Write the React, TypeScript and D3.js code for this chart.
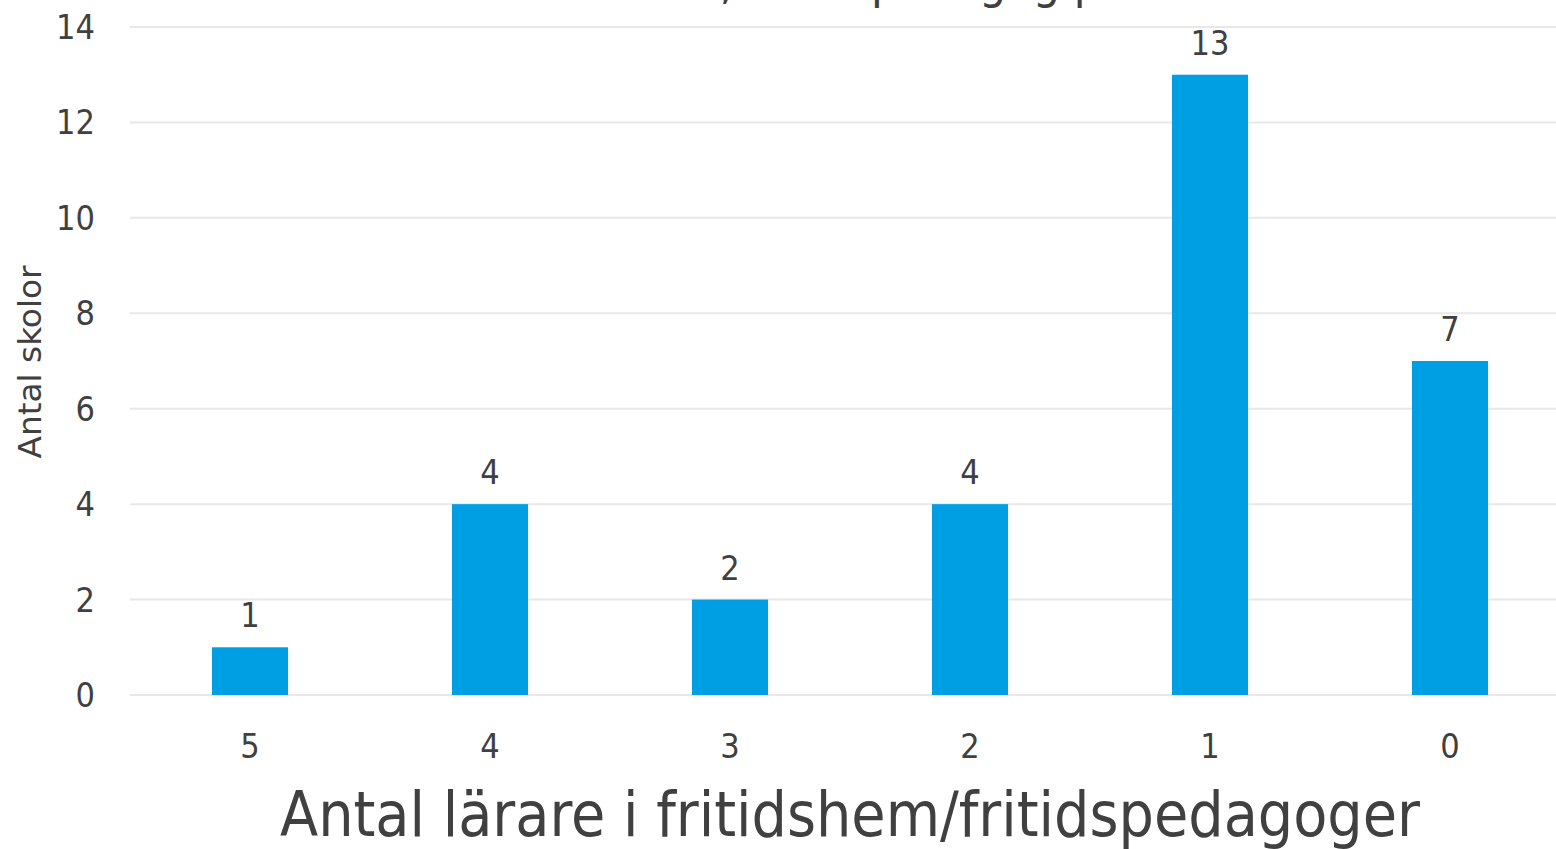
import { useEffect, useRef } from 'react';
import * as d3 from 'd3';

const W = 1556;
const H = 849;
const BAR = '#009fe3';
const INK = '#404040';
const GRID = '#e8e8e8';
const FONT = '"DejaVu Sans Condensed", "DejaVu Sans", Tahoma, sans-serif';

const categories = ['5', '4', '3', '2', '1', '0'];
const counts = [1, 4, 2, 4, 13, 7];
const yTicks = [0, 2, 4, 6, 8, 10, 12, 14];

const TITLE = 'Antal lärare i fritidshem, fritidspedagog per skola';
const X_TITLE = 'Antal lärare i fritidshem/fritidspedagoger';
const Y_TITLE = 'Antal skolor';

export default function App() {
  const ref = useRef<SVGSVGElement>(null);

  useEffect(() => {
    const svg = d3.select(ref.current);
    if (!svg.node()) return;
    svg.selectAll('*').remove();

    const margin = { top: 27, right: -14, bottom: 154, left: 130 };

    const x = d3
      .scaleBand<string>()
      .domain(categories)
      .range([margin.left, W - margin.right])
      .paddingInner(0.683)
      .paddingOuter(0.3415);
    const y = d3
      .scaleLinear()
      .domain([0, 14])
      .range([H - margin.bottom, margin.top]);

    const g = svg.append('g');

    // gridlines
    g.selectAll('line.grid')
      .data(yTicks)
      .join('line')
      .attr('class', 'grid')
      .attr('x1', margin.left)
      .attr('x2', W)
      .attr('y1', (d) => y(d))
      .attr('y2', (d) => y(d))
      .attr('stroke', GRID)
      .attr('stroke-width', 2);

    // y tick labels
    g.selectAll('text.ytick')
      .data(yTicks)
      .join('text')
      .attr('class', 'ytick')
      .attr('x', 95)
      .attr('y', (d) => y(d) + 12)
      .attr('text-anchor', 'end')
      .attr('fill', INK)
      .attr('font-size', 34)
      .attr('font-family', FONT)
      .text((d) => d);

    // bars
    g.selectAll('rect.bar')
      .data(counts)
      .join('rect')
      .attr('class', 'bar')
      .attr('x', (_, i) => x(categories[i])!)
      .attr('width', x.bandwidth())
      .attr('y', (d) => y(d))
      .attr('height', (d) => y(0) - y(d))
      .attr('fill', BAR);

    // value labels
    g.selectAll('text.val')
      .data(counts)
      .join('text')
      .attr('class', 'val')
      .attr('x', (_, i) => x(categories[i])! + x.bandwidth() / 2)
      .attr('y', (d) => y(d) - 20)
      .attr('text-anchor', 'middle')
      .attr('fill', INK)
      .attr('font-size', 34)
      .attr('font-family', FONT)
      .text((d) => d);

    // x tick labels
    g.selectAll('text.xtick')
      .data(categories)
      .join('text')
      .attr('class', 'xtick')
      .attr('x', (d) => x(d)! + x.bandwidth() / 2)
      .attr('y', 758)
      .attr('text-anchor', 'middle')
      .attr('fill', INK)
      .attr('font-size', 34)
      .attr('font-family', FONT)
      .text((d) => d);

    // axis titles
    g.append('text')
      .attr('x', 850)
      .attr('y', 836)
      .attr('text-anchor', 'middle')
      .attr('fill', INK)
      .attr('font-size', 62)
      .attr('font-family', FONT)
      .attr('textLength', 1140)
      .attr('lengthAdjust', 'spacingAndGlyphs')
      .text(X_TITLE);

    g.append('text')
      .attr('transform', 'translate(41,362) rotate(-90)')
      .attr('text-anchor', 'middle')
      .attr('fill', INK)
      .attr('font-size', 32)
      .attr('font-family', FONT)
      .attr('textLength', 193)
      .attr('lengthAdjust', 'spacingAndGlyphs')
      .text(Y_TITLE);

    // chart title, mostly cut off at the top edge like the reference
    g.append('text')
      .attr('x', 1270)
      .attr('y', -2)
      .attr('text-anchor', 'end')
      .attr('fill', INK)
      .attr('font-size', 48)
      .attr('font-family', FONT)
      .text(TITLE);
  }, []);

  return (
    <svg
      ref={ref}
      width={W}
      height={H}
      viewBox={`0 0 ${W} ${H}`}
      style={{ position: 'absolute', left: 0, top: 0, background: '#fff' }}
    />
  );
}
